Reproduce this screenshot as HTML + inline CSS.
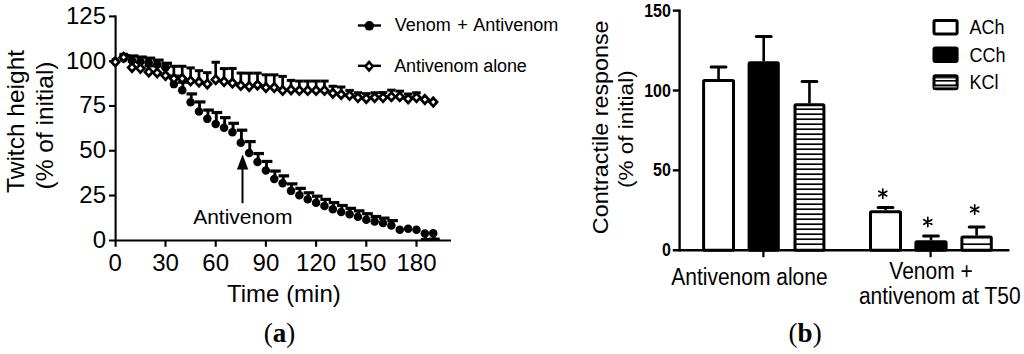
<!DOCTYPE html>
<html><head><meta charset="utf-8"><title>Figure</title>
<style>
html,body{margin:0;padding:0;background:#fff;}
body{width:1024px;height:354px;overflow:hidden;}
svg{display:block;font-family:"Liberation Sans", sans-serif;}
</style></head>
<body>
<svg width="1024" height="354" viewBox="0 0 1024 354" font-family='"Liberation Sans", sans-serif' fill="#000">
<rect width="1024" height="354" fill="#fff"/>
<line x1="115.6" y1="15.4" x2="115.6" y2="246.8" stroke="#000" stroke-width="2.1"/>
<line x1="109" y1="240.5" x2="451" y2="240.5" stroke="#000" stroke-width="2.1"/>
<line x1="109" y1="195.53" x2="115.6" y2="195.53" stroke="#000" stroke-width="2.1"/>
<line x1="109" y1="150.75" x2="115.6" y2="150.75" stroke="#000" stroke-width="2.1"/>
<line x1="109" y1="105.98" x2="115.6" y2="105.98" stroke="#000" stroke-width="2.1"/>
<line x1="109" y1="61.20" x2="115.6" y2="61.20" stroke="#000" stroke-width="2.1"/>
<line x1="109" y1="16.43" x2="115.6" y2="16.43" stroke="#000" stroke-width="2.1"/>
<line x1="165.50" y1="240.5" x2="165.50" y2="246.8" stroke="#000" stroke-width="2.1"/>
<line x1="215.70" y1="240.5" x2="215.70" y2="246.8" stroke="#000" stroke-width="2.1"/>
<line x1="265.90" y1="240.5" x2="265.90" y2="246.8" stroke="#000" stroke-width="2.1"/>
<line x1="316.10" y1="240.5" x2="316.10" y2="246.8" stroke="#000" stroke-width="2.1"/>
<line x1="366.30" y1="240.5" x2="366.30" y2="246.8" stroke="#000" stroke-width="2.1"/>
<line x1="416.49" y1="240.5" x2="416.49" y2="246.8" stroke="#000" stroke-width="2.1"/>
<text x="106" y="247.70" font-size="24" text-anchor="end">0</text>
<text x="106" y="202.93" font-size="24" text-anchor="end">25</text>
<text x="106" y="158.15" font-size="24" text-anchor="end">50</text>
<text x="106" y="113.38" font-size="24" text-anchor="end">75</text>
<text x="106" y="68.60" font-size="24" text-anchor="end">100</text>
<text x="106" y="23.83" font-size="24" text-anchor="end">125</text>
<text x="115.30" y="270.6" font-size="24" text-anchor="middle">0</text>
<text x="165.50" y="270.6" font-size="24" text-anchor="middle">30</text>
<text x="215.70" y="270.6" font-size="24" text-anchor="middle">60</text>
<text x="265.90" y="270.6" font-size="24" text-anchor="middle">90</text>
<text x="316.10" y="270.6" font-size="24" text-anchor="middle">120</text>
<text x="366.30" y="270.6" font-size="24" text-anchor="middle">150</text>
<text x="416.49" y="270.6" font-size="24" text-anchor="middle">180</text>
<text x="283.9" y="301.8" font-size="24" text-anchor="middle">Time (min)</text>
<text transform="translate(24.4,121.4) rotate(-90)" font-size="24.5" text-anchor="middle">Twitch height</text>
<text transform="translate(52.6,125.5) rotate(-90)" font-size="24.5" text-anchor="middle">(% of initial)</text>
<line x1="124.27" y1="58.51" x2="124.27" y2="55.51" stroke="#000" stroke-width="2.9"/>
<line x1="119.57" y1="55.51" x2="130.17" y2="55.51" stroke="#000" stroke-width="3.1999999999999997"/>
<line x1="132.63" y1="60.48" x2="132.63" y2="55.98" stroke="#000" stroke-width="2.9"/>
<line x1="127.93" y1="55.98" x2="138.53" y2="55.98" stroke="#000" stroke-width="3.1999999999999997"/>
<line x1="141.00" y1="61.56" x2="141.00" y2="57.06" stroke="#000" stroke-width="2.9"/>
<line x1="136.30" y1="57.06" x2="146.90" y2="57.06" stroke="#000" stroke-width="3.1999999999999997"/>
<line x1="149.37" y1="62.45" x2="149.37" y2="58.15" stroke="#000" stroke-width="2.9"/>
<line x1="144.67" y1="58.15" x2="155.27" y2="58.15" stroke="#000" stroke-width="3.1999999999999997"/>
<line x1="157.73" y1="64.42" x2="157.73" y2="60.12" stroke="#000" stroke-width="2.9"/>
<line x1="153.03" y1="60.12" x2="163.63" y2="60.12" stroke="#000" stroke-width="3.1999999999999997"/>
<line x1="166.10" y1="67.47" x2="166.10" y2="63.27" stroke="#000" stroke-width="2.9"/>
<line x1="161.40" y1="63.27" x2="172.00" y2="63.27" stroke="#000" stroke-width="3.1999999999999997"/>
<line x1="174.47" y1="84.12" x2="174.47" y2="76.12" stroke="#000" stroke-width="2.9"/>
<line x1="169.77" y1="76.12" x2="180.37" y2="76.12" stroke="#000" stroke-width="3.1999999999999997"/>
<line x1="182.83" y1="90.21" x2="182.83" y2="82.21" stroke="#000" stroke-width="2.9"/>
<line x1="178.13" y1="82.21" x2="188.73" y2="82.21" stroke="#000" stroke-width="3.1999999999999997"/>
<line x1="191.20" y1="102.21" x2="191.20" y2="93.91" stroke="#000" stroke-width="2.9"/>
<line x1="186.50" y1="93.91" x2="197.10" y2="93.91" stroke="#000" stroke-width="3.1999999999999997"/>
<line x1="199.56" y1="111.53" x2="199.56" y2="101.93" stroke="#000" stroke-width="2.9"/>
<line x1="194.86" y1="101.93" x2="205.47" y2="101.93" stroke="#000" stroke-width="3.1999999999999997"/>
<line x1="207.93" y1="118.87" x2="207.93" y2="110.07" stroke="#000" stroke-width="2.9"/>
<line x1="203.23" y1="110.07" x2="213.83" y2="110.07" stroke="#000" stroke-width="3.1999999999999997"/>
<line x1="216.30" y1="123.89" x2="216.30" y2="112.49" stroke="#000" stroke-width="2.9"/>
<line x1="211.60" y1="112.49" x2="222.20" y2="112.49" stroke="#000" stroke-width="3.1999999999999997"/>
<line x1="224.66" y1="127.65" x2="224.66" y2="117.65" stroke="#000" stroke-width="2.9"/>
<line x1="219.96" y1="117.65" x2="230.56" y2="117.65" stroke="#000" stroke-width="3.1999999999999997"/>
<line x1="233.03" y1="132.30" x2="233.03" y2="123.30" stroke="#000" stroke-width="2.9"/>
<line x1="228.33" y1="123.30" x2="238.93" y2="123.30" stroke="#000" stroke-width="3.1999999999999997"/>
<line x1="241.40" y1="142.69" x2="241.40" y2="130.19" stroke="#000" stroke-width="2.9"/>
<line x1="236.70" y1="130.19" x2="247.30" y2="130.19" stroke="#000" stroke-width="3.1999999999999997"/>
<line x1="249.76" y1="153.08" x2="249.76" y2="141.58" stroke="#000" stroke-width="2.9"/>
<line x1="245.06" y1="141.58" x2="255.66" y2="141.58" stroke="#000" stroke-width="3.1999999999999997"/>
<line x1="258.13" y1="162.03" x2="258.13" y2="153.53" stroke="#000" stroke-width="2.9"/>
<line x1="253.43" y1="153.53" x2="264.03" y2="153.53" stroke="#000" stroke-width="3.1999999999999997"/>
<line x1="266.50" y1="170.45" x2="266.50" y2="161.45" stroke="#000" stroke-width="2.9"/>
<line x1="261.80" y1="161.45" x2="272.40" y2="161.45" stroke="#000" stroke-width="3.1999999999999997"/>
<line x1="274.86" y1="179.05" x2="274.86" y2="171.05" stroke="#000" stroke-width="2.9"/>
<line x1="270.16" y1="171.05" x2="280.76" y2="171.05" stroke="#000" stroke-width="3.1999999999999997"/>
<line x1="283.23" y1="183.35" x2="283.23" y2="175.85" stroke="#000" stroke-width="2.9"/>
<line x1="278.53" y1="175.85" x2="289.13" y2="175.85" stroke="#000" stroke-width="3.1999999999999997"/>
<line x1="291.60" y1="190.87" x2="291.60" y2="183.87" stroke="#000" stroke-width="2.9"/>
<line x1="286.90" y1="183.87" x2="297.50" y2="183.87" stroke="#000" stroke-width="3.1999999999999997"/>
<line x1="299.96" y1="195.35" x2="299.96" y2="188.35" stroke="#000" stroke-width="2.9"/>
<line x1="295.26" y1="188.35" x2="305.86" y2="188.35" stroke="#000" stroke-width="3.1999999999999997"/>
<line x1="308.33" y1="199.29" x2="308.33" y2="192.79" stroke="#000" stroke-width="2.9"/>
<line x1="303.63" y1="192.79" x2="314.23" y2="192.79" stroke="#000" stroke-width="3.1999999999999997"/>
<line x1="316.70" y1="202.69" x2="316.70" y2="196.19" stroke="#000" stroke-width="2.9"/>
<line x1="312.00" y1="196.19" x2="322.60" y2="196.19" stroke="#000" stroke-width="3.1999999999999997"/>
<line x1="325.06" y1="205.91" x2="325.06" y2="199.41" stroke="#000" stroke-width="2.9"/>
<line x1="320.36" y1="199.41" x2="330.96" y2="199.41" stroke="#000" stroke-width="3.1999999999999997"/>
<line x1="333.43" y1="209.14" x2="333.43" y2="202.64" stroke="#000" stroke-width="2.9"/>
<line x1="328.73" y1="202.64" x2="339.33" y2="202.64" stroke="#000" stroke-width="3.1999999999999997"/>
<line x1="341.80" y1="212.00" x2="341.80" y2="205.50" stroke="#000" stroke-width="2.9"/>
<line x1="337.10" y1="205.50" x2="347.70" y2="205.50" stroke="#000" stroke-width="3.1999999999999997"/>
<line x1="350.16" y1="214.33" x2="350.16" y2="208.33" stroke="#000" stroke-width="2.9"/>
<line x1="345.46" y1="208.33" x2="356.06" y2="208.33" stroke="#000" stroke-width="3.1999999999999997"/>
<line x1="358.53" y1="216.84" x2="358.53" y2="210.84" stroke="#000" stroke-width="2.9"/>
<line x1="353.83" y1="210.84" x2="364.43" y2="210.84" stroke="#000" stroke-width="3.1999999999999997"/>
<line x1="366.90" y1="219.70" x2="366.90" y2="213.70" stroke="#000" stroke-width="2.9"/>
<line x1="362.19" y1="213.70" x2="372.80" y2="213.70" stroke="#000" stroke-width="3.1999999999999997"/>
<line x1="375.26" y1="221.49" x2="375.26" y2="216.49" stroke="#000" stroke-width="2.9"/>
<line x1="370.56" y1="216.49" x2="381.16" y2="216.49" stroke="#000" stroke-width="3.1999999999999997"/>
<line x1="383.63" y1="223.11" x2="383.63" y2="218.11" stroke="#000" stroke-width="2.9"/>
<line x1="378.93" y1="218.11" x2="389.53" y2="218.11" stroke="#000" stroke-width="3.1999999999999997"/>
<line x1="391.99" y1="225.61" x2="391.99" y2="220.61" stroke="#000" stroke-width="2.9"/>
<line x1="387.29" y1="220.61" x2="397.89" y2="220.61" stroke="#000" stroke-width="3.1999999999999997"/>
<line x1="425.46" y1="233.49" x2="425.46" y2="239.49" stroke="#000" stroke-width="2.9"/>
<line x1="420.76" y1="239.49" x2="431.36" y2="239.49" stroke="#000" stroke-width="3.1999999999999997"/>
<line x1="433.83" y1="233.14" x2="433.83" y2="239.14" stroke="#000" stroke-width="2.9"/>
<line x1="429.13" y1="239.14" x2="439.73" y2="239.14" stroke="#000" stroke-width="3.1999999999999997"/>
<line x1="123.67" y1="57.26" x2="123.67" y2="54.26" stroke="#000" stroke-width="2.7"/>
<line x1="119.47" y1="54.26" x2="127.87" y2="54.26" stroke="#000" stroke-width="3.0"/>
<line x1="132.03" y1="67.47" x2="132.03" y2="61.47" stroke="#000" stroke-width="2.7"/>
<line x1="127.83" y1="61.47" x2="136.23" y2="61.47" stroke="#000" stroke-width="3.0"/>
<line x1="140.40" y1="68.36" x2="140.40" y2="62.36" stroke="#000" stroke-width="2.7"/>
<line x1="136.20" y1="62.36" x2="144.60" y2="62.36" stroke="#000" stroke-width="3.0"/>
<line x1="148.77" y1="71.95" x2="148.77" y2="65.95" stroke="#000" stroke-width="2.7"/>
<line x1="144.57" y1="65.95" x2="152.97" y2="65.95" stroke="#000" stroke-width="3.0"/>
<line x1="157.13" y1="72.84" x2="157.13" y2="65.84" stroke="#000" stroke-width="2.7"/>
<line x1="152.93" y1="65.84" x2="161.33" y2="65.84" stroke="#000" stroke-width="3.0"/>
<line x1="165.50" y1="75.53" x2="165.50" y2="67.53" stroke="#000" stroke-width="2.7"/>
<line x1="161.30" y1="67.53" x2="169.70" y2="67.53" stroke="#000" stroke-width="3.0"/>
<line x1="173.87" y1="78.57" x2="173.87" y2="66.27" stroke="#000" stroke-width="2.7"/>
<line x1="169.67" y1="66.27" x2="178.07" y2="66.27" stroke="#000" stroke-width="3.0"/>
<line x1="182.23" y1="78.57" x2="182.23" y2="66.27" stroke="#000" stroke-width="2.7"/>
<line x1="178.03" y1="66.27" x2="186.43" y2="66.27" stroke="#000" stroke-width="3.0"/>
<line x1="190.60" y1="80.90" x2="190.60" y2="67.90" stroke="#000" stroke-width="2.7"/>
<line x1="186.40" y1="67.90" x2="194.80" y2="67.90" stroke="#000" stroke-width="3.0"/>
<line x1="198.97" y1="81.98" x2="198.97" y2="70.68" stroke="#000" stroke-width="2.7"/>
<line x1="194.77" y1="70.68" x2="203.16" y2="70.68" stroke="#000" stroke-width="3.0"/>
<line x1="207.33" y1="83.95" x2="207.33" y2="72.65" stroke="#000" stroke-width="2.7"/>
<line x1="203.13" y1="72.65" x2="211.53" y2="72.65" stroke="#000" stroke-width="3.0"/>
<line x1="215.70" y1="79.65" x2="215.70" y2="62.25" stroke="#000" stroke-width="2.7"/>
<line x1="211.50" y1="62.25" x2="219.90" y2="62.25" stroke="#000" stroke-width="3.0"/>
<line x1="224.06" y1="81.62" x2="224.06" y2="68.62" stroke="#000" stroke-width="2.7"/>
<line x1="219.86" y1="68.62" x2="228.26" y2="68.62" stroke="#000" stroke-width="3.0"/>
<line x1="232.43" y1="83.05" x2="232.43" y2="68.45" stroke="#000" stroke-width="2.7"/>
<line x1="228.23" y1="68.45" x2="236.63" y2="68.45" stroke="#000" stroke-width="3.0"/>
<line x1="240.80" y1="85.38" x2="240.80" y2="73.08" stroke="#000" stroke-width="2.7"/>
<line x1="236.60" y1="73.08" x2="245.00" y2="73.08" stroke="#000" stroke-width="3.0"/>
<line x1="249.16" y1="86.45" x2="249.16" y2="73.15" stroke="#000" stroke-width="2.7"/>
<line x1="244.96" y1="73.15" x2="253.36" y2="73.15" stroke="#000" stroke-width="3.0"/>
<line x1="257.53" y1="85.02" x2="257.53" y2="73.12" stroke="#000" stroke-width="2.7"/>
<line x1="253.33" y1="73.12" x2="261.73" y2="73.12" stroke="#000" stroke-width="3.0"/>
<line x1="265.90" y1="87.53" x2="265.90" y2="74.83" stroke="#000" stroke-width="2.7"/>
<line x1="261.70" y1="74.83" x2="270.10" y2="74.83" stroke="#000" stroke-width="3.0"/>
<line x1="274.26" y1="87.53" x2="274.26" y2="74.83" stroke="#000" stroke-width="2.7"/>
<line x1="270.06" y1="74.83" x2="278.46" y2="74.83" stroke="#000" stroke-width="3.0"/>
<line x1="282.63" y1="90.39" x2="282.63" y2="76.39" stroke="#000" stroke-width="2.7"/>
<line x1="278.43" y1="76.39" x2="286.83" y2="76.39" stroke="#000" stroke-width="3.0"/>
<line x1="291.00" y1="89.68" x2="291.00" y2="80.38" stroke="#000" stroke-width="2.7"/>
<line x1="286.80" y1="80.38" x2="295.20" y2="80.38" stroke="#000" stroke-width="3.0"/>
<line x1="299.36" y1="90.39" x2="299.36" y2="81.09" stroke="#000" stroke-width="2.7"/>
<line x1="295.16" y1="81.09" x2="303.56" y2="81.09" stroke="#000" stroke-width="3.0"/>
<line x1="307.73" y1="90.39" x2="307.73" y2="81.09" stroke="#000" stroke-width="2.7"/>
<line x1="303.53" y1="81.09" x2="311.93" y2="81.09" stroke="#000" stroke-width="3.0"/>
<line x1="316.10" y1="90.39" x2="316.10" y2="81.09" stroke="#000" stroke-width="2.7"/>
<line x1="311.90" y1="81.09" x2="320.30" y2="81.09" stroke="#000" stroke-width="3.0"/>
<line x1="324.46" y1="90.39" x2="324.46" y2="81.09" stroke="#000" stroke-width="2.7"/>
<line x1="320.26" y1="81.09" x2="328.66" y2="81.09" stroke="#000" stroke-width="3.0"/>
<line x1="332.83" y1="93.26" x2="332.83" y2="86.26" stroke="#000" stroke-width="2.7"/>
<line x1="328.63" y1="86.26" x2="337.03" y2="86.26" stroke="#000" stroke-width="3.0"/>
<line x1="341.20" y1="94.51" x2="341.20" y2="87.01" stroke="#000" stroke-width="2.7"/>
<line x1="337.00" y1="87.01" x2="345.40" y2="87.01" stroke="#000" stroke-width="3.0"/>
<line x1="349.56" y1="95.41" x2="349.56" y2="90.41" stroke="#000" stroke-width="2.7"/>
<line x1="345.36" y1="90.41" x2="353.76" y2="90.41" stroke="#000" stroke-width="3.0"/>
<line x1="357.93" y1="97.56" x2="357.93" y2="92.76" stroke="#000" stroke-width="2.7"/>
<line x1="353.73" y1="92.76" x2="362.13" y2="92.76" stroke="#000" stroke-width="3.0"/>
<line x1="366.30" y1="98.45" x2="366.30" y2="93.65" stroke="#000" stroke-width="2.7"/>
<line x1="362.10" y1="93.65" x2="370.50" y2="93.65" stroke="#000" stroke-width="3.0"/>
<line x1="374.66" y1="97.56" x2="374.66" y2="92.76" stroke="#000" stroke-width="2.7"/>
<line x1="370.46" y1="92.76" x2="378.86" y2="92.76" stroke="#000" stroke-width="3.0"/>
<line x1="383.03" y1="97.56" x2="383.03" y2="92.56" stroke="#000" stroke-width="2.7"/>
<line x1="378.83" y1="92.56" x2="387.23" y2="92.56" stroke="#000" stroke-width="3.0"/>
<line x1="391.39" y1="96.66" x2="391.39" y2="90.16" stroke="#000" stroke-width="2.7"/>
<line x1="387.19" y1="90.16" x2="395.59" y2="90.16" stroke="#000" stroke-width="3.0"/>
<line x1="399.76" y1="96.66" x2="399.76" y2="91.16" stroke="#000" stroke-width="2.7"/>
<line x1="395.56" y1="91.16" x2="403.96" y2="91.16" stroke="#000" stroke-width="3.0"/>
<line x1="408.13" y1="98.81" x2="408.13" y2="94.01" stroke="#000" stroke-width="2.7"/>
<line x1="403.93" y1="94.01" x2="412.33" y2="94.01" stroke="#000" stroke-width="3.0"/>
<line x1="416.49" y1="97.56" x2="416.49" y2="92.76" stroke="#000" stroke-width="2.7"/>
<line x1="412.29" y1="92.76" x2="420.69" y2="92.76" stroke="#000" stroke-width="3.0"/>
<circle cx="115.30" cy="61.20" r="4.25" fill="#000"/>
<circle cx="123.67" cy="58.51" r="4.25" fill="#000"/>
<circle cx="132.03" cy="60.48" r="4.25" fill="#000"/>
<circle cx="140.40" cy="61.56" r="4.25" fill="#000"/>
<circle cx="148.77" cy="62.45" r="4.25" fill="#000"/>
<circle cx="157.13" cy="64.42" r="4.25" fill="#000"/>
<circle cx="165.50" cy="67.47" r="4.25" fill="#000"/>
<circle cx="173.87" cy="84.12" r="4.25" fill="#000"/>
<circle cx="182.23" cy="90.21" r="4.25" fill="#000"/>
<circle cx="190.60" cy="102.21" r="4.25" fill="#000"/>
<circle cx="198.97" cy="111.53" r="4.25" fill="#000"/>
<circle cx="207.33" cy="118.87" r="4.25" fill="#000"/>
<circle cx="215.70" cy="123.89" r="4.25" fill="#000"/>
<circle cx="224.06" cy="127.65" r="4.25" fill="#000"/>
<circle cx="232.43" cy="132.30" r="4.25" fill="#000"/>
<circle cx="240.80" cy="142.69" r="4.25" fill="#000"/>
<circle cx="249.16" cy="153.08" r="4.25" fill="#000"/>
<circle cx="257.53" cy="162.03" r="4.25" fill="#000"/>
<circle cx="265.90" cy="170.45" r="4.25" fill="#000"/>
<circle cx="274.26" cy="179.05" r="4.25" fill="#000"/>
<circle cx="282.63" cy="183.35" r="4.25" fill="#000"/>
<circle cx="291.00" cy="190.87" r="4.25" fill="#000"/>
<circle cx="299.36" cy="195.35" r="4.25" fill="#000"/>
<circle cx="307.73" cy="199.29" r="4.25" fill="#000"/>
<circle cx="316.10" cy="202.69" r="4.25" fill="#000"/>
<circle cx="324.46" cy="205.91" r="4.25" fill="#000"/>
<circle cx="332.83" cy="209.14" r="4.25" fill="#000"/>
<circle cx="341.20" cy="212.00" r="4.25" fill="#000"/>
<circle cx="349.56" cy="214.33" r="4.25" fill="#000"/>
<circle cx="357.93" cy="216.84" r="4.25" fill="#000"/>
<circle cx="366.30" cy="219.70" r="4.25" fill="#000"/>
<circle cx="374.66" cy="221.49" r="4.25" fill="#000"/>
<circle cx="383.03" cy="223.11" r="4.25" fill="#000"/>
<circle cx="391.39" cy="225.61" r="4.25" fill="#000"/>
<circle cx="399.76" cy="229.73" r="4.25" fill="#000"/>
<circle cx="408.13" cy="228.66" r="4.25" fill="#000"/>
<circle cx="416.49" cy="229.73" r="4.25" fill="#000"/>
<circle cx="424.86" cy="233.49" r="4.25" fill="#000"/>
<circle cx="433.23" cy="233.14" r="4.25" fill="#000"/>
<path d="M115.30 55.72L121.00 61.92L115.30 68.12L109.60 61.92Z" fill="#000"/>
<path d="M115.30 59.82L117.40 61.92L115.30 64.02L113.20 61.92Z" fill="#fff"/>
<path d="M123.67 51.06L129.37 57.26L123.67 63.46L117.97 57.26Z" fill="#000"/>
<path d="M123.67 55.16L125.77 57.26L123.67 59.36L121.57 57.26Z" fill="#fff"/>
<path d="M132.03 61.27L137.73 67.47L132.03 73.67L126.33 67.47Z" fill="#000"/>
<path d="M132.03 65.37L134.13 67.47L132.03 69.57L129.93 67.47Z" fill="#fff"/>
<path d="M140.40 62.16L146.10 68.36L140.40 74.56L134.70 68.36Z" fill="#000"/>
<path d="M140.40 66.26L142.50 68.36L140.40 70.46L138.30 68.36Z" fill="#fff"/>
<path d="M148.77 65.75L154.47 71.95L148.77 78.15L143.07 71.95Z" fill="#000"/>
<path d="M148.77 69.85L150.87 71.95L148.77 74.05L146.67 71.95Z" fill="#fff"/>
<path d="M157.13 66.64L162.83 72.84L157.13 79.04L151.43 72.84Z" fill="#000"/>
<path d="M157.13 70.74L159.23 72.84L157.13 74.94L155.03 72.84Z" fill="#fff"/>
<path d="M165.50 69.33L171.20 75.53L165.50 81.73L159.80 75.53Z" fill="#000"/>
<path d="M165.50 73.43L167.60 75.53L165.50 77.63L163.40 75.53Z" fill="#fff"/>
<path d="M173.87 72.37L179.57 78.57L173.87 84.77L168.17 78.57Z" fill="#000"/>
<path d="M173.87 76.47L175.97 78.57L173.87 80.67L171.77 78.57Z" fill="#fff"/>
<path d="M182.23 72.37L187.93 78.57L182.23 84.77L176.53 78.57Z" fill="#000"/>
<path d="M182.23 76.47L184.33 78.57L182.23 80.67L180.13 78.57Z" fill="#fff"/>
<path d="M190.60 74.70L196.30 80.90L190.60 87.10L184.90 80.90Z" fill="#000"/>
<path d="M190.60 78.80L192.70 80.90L190.60 83.00L188.50 80.90Z" fill="#fff"/>
<path d="M198.97 75.78L204.66 81.98L198.97 88.18L193.27 81.98Z" fill="#000"/>
<path d="M198.97 79.88L201.06 81.98L198.97 84.08L196.87 81.98Z" fill="#fff"/>
<path d="M207.33 77.75L213.03 83.95L207.33 90.15L201.63 83.95Z" fill="#000"/>
<path d="M207.33 81.85L209.43 83.95L207.33 86.05L205.23 83.95Z" fill="#fff"/>
<path d="M215.70 73.45L221.40 79.65L215.70 85.85L210.00 79.65Z" fill="#000"/>
<path d="M215.70 77.55L217.80 79.65L215.70 81.75L213.60 79.65Z" fill="#fff"/>
<path d="M224.06 75.42L229.76 81.62L224.06 87.82L218.36 81.62Z" fill="#000"/>
<path d="M224.06 79.52L226.16 81.62L224.06 83.72L221.96 81.62Z" fill="#fff"/>
<path d="M232.43 76.85L238.13 83.05L232.43 89.25L226.73 83.05Z" fill="#000"/>
<path d="M232.43 80.95L234.53 83.05L232.43 85.15L230.33 83.05Z" fill="#fff"/>
<path d="M240.80 79.18L246.50 85.38L240.80 91.58L235.10 85.38Z" fill="#000"/>
<path d="M240.80 83.28L242.90 85.38L240.80 87.48L238.70 85.38Z" fill="#fff"/>
<path d="M249.16 80.25L254.86 86.45L249.16 92.65L243.46 86.45Z" fill="#000"/>
<path d="M249.16 84.35L251.26 86.45L249.16 88.55L247.06 86.45Z" fill="#fff"/>
<path d="M257.53 78.82L263.23 85.02L257.53 91.22L251.83 85.02Z" fill="#000"/>
<path d="M257.53 82.92L259.63 85.02L257.53 87.12L255.43 85.02Z" fill="#fff"/>
<path d="M265.90 81.33L271.60 87.53L265.90 93.73L260.20 87.53Z" fill="#000"/>
<path d="M265.90 85.43L268.00 87.53L265.90 89.63L263.80 87.53Z" fill="#fff"/>
<path d="M274.26 81.33L279.96 87.53L274.26 93.73L268.56 87.53Z" fill="#000"/>
<path d="M274.26 85.43L276.36 87.53L274.26 89.63L272.16 87.53Z" fill="#fff"/>
<path d="M282.63 84.19L288.33 90.39L282.63 96.59L276.93 90.39Z" fill="#000"/>
<path d="M282.63 88.29L284.73 90.39L282.63 92.49L280.53 90.39Z" fill="#fff"/>
<path d="M291.00 83.48L296.70 89.68L291.00 95.88L285.30 89.68Z" fill="#000"/>
<path d="M291.00 87.58L293.10 89.68L291.00 91.78L288.90 89.68Z" fill="#fff"/>
<path d="M299.36 84.19L305.06 90.39L299.36 96.59L293.66 90.39Z" fill="#000"/>
<path d="M299.36 88.29L301.46 90.39L299.36 92.49L297.26 90.39Z" fill="#fff"/>
<path d="M307.73 84.19L313.43 90.39L307.73 96.59L302.03 90.39Z" fill="#000"/>
<path d="M307.73 88.29L309.83 90.39L307.73 92.49L305.63 90.39Z" fill="#fff"/>
<path d="M316.10 84.19L321.80 90.39L316.10 96.59L310.40 90.39Z" fill="#000"/>
<path d="M316.10 88.29L318.20 90.39L316.10 92.49L314.00 90.39Z" fill="#fff"/>
<path d="M324.46 84.19L330.16 90.39L324.46 96.59L318.76 90.39Z" fill="#000"/>
<path d="M324.46 88.29L326.56 90.39L324.46 92.49L322.36 90.39Z" fill="#fff"/>
<path d="M332.83 87.06L338.53 93.26L332.83 99.46L327.13 93.26Z" fill="#000"/>
<path d="M332.83 91.16L334.93 93.26L332.83 95.36L330.73 93.26Z" fill="#fff"/>
<path d="M341.20 88.31L346.90 94.51L341.20 100.71L335.50 94.51Z" fill="#000"/>
<path d="M341.20 92.41L343.30 94.51L341.20 96.61L339.10 94.51Z" fill="#fff"/>
<path d="M349.56 89.21L355.26 95.41L349.56 101.61L343.86 95.41Z" fill="#000"/>
<path d="M349.56 93.31L351.66 95.41L349.56 97.51L347.46 95.41Z" fill="#fff"/>
<path d="M357.93 91.36L363.63 97.56L357.93 103.76L352.23 97.56Z" fill="#000"/>
<path d="M357.93 95.46L360.03 97.56L357.93 99.66L355.83 97.56Z" fill="#fff"/>
<path d="M366.30 92.25L372.00 98.45L366.30 104.65L360.60 98.45Z" fill="#000"/>
<path d="M366.30 96.35L368.40 98.45L366.30 100.55L364.19 98.45Z" fill="#fff"/>
<path d="M374.66 91.36L380.36 97.56L374.66 103.76L368.96 97.56Z" fill="#000"/>
<path d="M374.66 95.46L376.76 97.56L374.66 99.66L372.56 97.56Z" fill="#fff"/>
<path d="M383.03 91.36L388.73 97.56L383.03 103.76L377.33 97.56Z" fill="#000"/>
<path d="M383.03 95.46L385.13 97.56L383.03 99.66L380.93 97.56Z" fill="#fff"/>
<path d="M391.39 90.46L397.09 96.66L391.39 102.86L385.69 96.66Z" fill="#000"/>
<path d="M391.39 94.56L393.49 96.66L391.39 98.76L389.29 96.66Z" fill="#fff"/>
<path d="M399.76 90.46L405.46 96.66L399.76 102.86L394.06 96.66Z" fill="#000"/>
<path d="M399.76 94.56L401.86 96.66L399.76 98.76L397.66 96.66Z" fill="#fff"/>
<path d="M408.13 92.61L413.83 98.81L408.13 105.01L402.43 98.81Z" fill="#000"/>
<path d="M408.13 96.71L410.23 98.81L408.13 100.91L406.03 98.81Z" fill="#fff"/>
<path d="M416.49 91.36L422.19 97.56L416.49 103.76L410.79 97.56Z" fill="#000"/>
<path d="M416.49 95.46L418.59 97.56L416.49 99.66L414.39 97.56Z" fill="#fff"/>
<path d="M424.86 93.33L430.56 99.53L424.86 105.73L419.16 99.53Z" fill="#000"/>
<path d="M424.86 97.43L426.96 99.53L424.86 101.63L422.76 99.53Z" fill="#fff"/>
<path d="M433.23 95.83L438.93 102.03L433.23 108.23L427.53 102.03Z" fill="#000"/>
<path d="M433.23 99.93L435.33 102.03L433.23 104.13L431.13 102.03Z" fill="#fff"/>
<line x1="242.5" y1="166" x2="242.5" y2="203.2" stroke="#000" stroke-width="2"/>
<path d="M242.6 154.6L248.3 169.5L236.9 169.5Z" fill="#000"/>
<text x="193.2" y="224.4" font-size="21">Antivenom</text>
<line x1="357.9" y1="25.5" x2="381" y2="25.5" stroke="#000" stroke-width="2.4"/>
<circle cx="369.3" cy="25.8" r="4.8" fill="#000"/>
<text x="394.8" y="30.8" font-size="18" word-spacing="1.4">Venom + Antivenom</text>
<line x1="357.9" y1="65.8" x2="381" y2="65.8" stroke="#000" stroke-width="2.4"/>
<path d="M369.1 59.9L374.3 66.2L369.1 72.6L363.8 66.2Z" fill="#000"/>
<path d="M369.1 64.1L371.2 66.2L369.1 68.3L367 66.2Z" fill="#fff"/>
<text x="394.2" y="72.2" font-size="18" letter-spacing="-0.1">Antivenom alone</text>
<text x="263.8" y="342.3" font-size="27" font-family='"Liberation Serif", serif'>(<tspan font-weight="bold">a</tspan>)</text>
<line x1="679.6" y1="9.5" x2="679.6" y2="251.39999999999998" stroke="#000" stroke-width="2.4"/>
<line x1="672.8" y1="250.2" x2="1009.5" y2="250.2" stroke="#000" stroke-width="2.4"/>
<line x1="672.8" y1="170.35" x2="679.6" y2="170.35" stroke="#000" stroke-width="2.4"/>
<line x1="672.8" y1="90.50" x2="679.6" y2="90.50" stroke="#000" stroke-width="2.4"/>
<line x1="672.8" y1="10.65" x2="679.6" y2="10.65" stroke="#000" stroke-width="2.4"/>
<text transform="translate(670.8,256.2) scale(1,1.1)" font-size="16" text-anchor="end" font-weight="bold">0</text>
<text transform="translate(670.8,176.35) scale(1,1.1)" font-size="16" text-anchor="end" font-weight="bold">50</text>
<text transform="translate(670.8,96.5) scale(1,1.1)" font-size="16" text-anchor="end" font-weight="bold">100</text>
<text transform="translate(670.8,16.65) scale(1,1.1)" font-size="16" text-anchor="end" font-weight="bold">150</text>
<line x1="763.4" y1="250.2" x2="763.4" y2="257.2" stroke="#000" stroke-width="2.2"/>
<line x1="930.6" y1="250.2" x2="930.6" y2="257.2" stroke="#000" stroke-width="2.2"/>
<text transform="translate(607.8,127.3) scale(1,1.1) rotate(-90)" font-size="21.2" text-anchor="middle">Contractile response</text>
<text transform="translate(633.3,129.2) scale(1,1.1) rotate(-90)" font-size="20.5" text-anchor="middle">(% of initial)</text>
<line x1="718.55" y1="79.10" x2="718.55" y2="67.10" stroke="#000" stroke-width="2.6"/>
<line x1="711.15" y1="67.10" x2="725.95" y2="67.10" stroke="#000" stroke-width="3" stroke-linecap="round"/>
<rect x="703.60" y="80.60" width="29.90" height="169.60" fill="#fff" stroke="#000" stroke-width="3.0" rx="1"/>
<line x1="763.70" y1="61.20" x2="763.70" y2="36.50" stroke="#000" stroke-width="2.6"/>
<line x1="756.30" y1="36.50" x2="771.10" y2="36.50" stroke="#000" stroke-width="3" stroke-linecap="round"/>
<rect x="749.10" y="62.70" width="29.20" height="187.50" fill="#000" stroke="#000" stroke-width="3.0" rx="1"/>
<line x1="809.45" y1="103.30" x2="809.45" y2="81.50" stroke="#000" stroke-width="2.6"/>
<line x1="802.05" y1="81.50" x2="816.85" y2="81.50" stroke="#000" stroke-width="3" stroke-linecap="round"/>
<rect x="795.00" y="104.80" width="28.90" height="145.40" fill="#fff" stroke="#000" stroke-width="3.0" rx="1"/>
<line x1="795.00" y1="244.20" x2="823.90" y2="244.20" stroke="#000" stroke-width="1.7"/>
<line x1="795.00" y1="239.20" x2="823.90" y2="239.20" stroke="#000" stroke-width="1.7"/>
<line x1="795.00" y1="234.20" x2="823.90" y2="234.20" stroke="#000" stroke-width="1.7"/>
<line x1="795.00" y1="229.20" x2="823.90" y2="229.20" stroke="#000" stroke-width="1.7"/>
<line x1="795.00" y1="224.20" x2="823.90" y2="224.20" stroke="#000" stroke-width="1.7"/>
<line x1="795.00" y1="219.20" x2="823.90" y2="219.20" stroke="#000" stroke-width="1.7"/>
<line x1="795.00" y1="214.20" x2="823.90" y2="214.20" stroke="#000" stroke-width="1.7"/>
<line x1="795.00" y1="209.20" x2="823.90" y2="209.20" stroke="#000" stroke-width="1.7"/>
<line x1="795.00" y1="204.20" x2="823.90" y2="204.20" stroke="#000" stroke-width="1.7"/>
<line x1="795.00" y1="199.20" x2="823.90" y2="199.20" stroke="#000" stroke-width="1.7"/>
<line x1="795.00" y1="194.20" x2="823.90" y2="194.20" stroke="#000" stroke-width="1.7"/>
<line x1="795.00" y1="189.20" x2="823.90" y2="189.20" stroke="#000" stroke-width="1.7"/>
<line x1="795.00" y1="184.20" x2="823.90" y2="184.20" stroke="#000" stroke-width="1.7"/>
<line x1="795.00" y1="179.20" x2="823.90" y2="179.20" stroke="#000" stroke-width="1.7"/>
<line x1="795.00" y1="174.20" x2="823.90" y2="174.20" stroke="#000" stroke-width="1.7"/>
<line x1="795.00" y1="169.20" x2="823.90" y2="169.20" stroke="#000" stroke-width="1.7"/>
<line x1="795.00" y1="164.20" x2="823.90" y2="164.20" stroke="#000" stroke-width="1.7"/>
<line x1="795.00" y1="159.20" x2="823.90" y2="159.20" stroke="#000" stroke-width="1.7"/>
<line x1="795.00" y1="154.20" x2="823.90" y2="154.20" stroke="#000" stroke-width="1.7"/>
<line x1="795.00" y1="149.20" x2="823.90" y2="149.20" stroke="#000" stroke-width="1.7"/>
<line x1="795.00" y1="144.20" x2="823.90" y2="144.20" stroke="#000" stroke-width="1.7"/>
<line x1="795.00" y1="139.20" x2="823.90" y2="139.20" stroke="#000" stroke-width="1.7"/>
<line x1="795.00" y1="134.20" x2="823.90" y2="134.20" stroke="#000" stroke-width="1.7"/>
<line x1="795.00" y1="129.20" x2="823.90" y2="129.20" stroke="#000" stroke-width="1.7"/>
<line x1="795.00" y1="124.20" x2="823.90" y2="124.20" stroke="#000" stroke-width="1.7"/>
<line x1="795.00" y1="119.20" x2="823.90" y2="119.20" stroke="#000" stroke-width="1.7"/>
<line x1="795.00" y1="114.20" x2="823.90" y2="114.20" stroke="#000" stroke-width="1.7"/>
<line x1="795.00" y1="109.20" x2="823.90" y2="109.20" stroke="#000" stroke-width="1.7"/>
<line x1="885.50" y1="210.30" x2="885.50" y2="207.60" stroke="#000" stroke-width="2.6"/>
<line x1="878.10" y1="207.60" x2="892.90" y2="207.60" stroke="#000" stroke-width="3" stroke-linecap="round"/>
<rect x="870.50" y="211.80" width="30.00" height="38.40" fill="#fff" stroke="#000" stroke-width="3.0" rx="1"/>
<line x1="931.00" y1="240.30" x2="931.00" y2="235.90" stroke="#000" stroke-width="2.6"/>
<line x1="923.60" y1="235.90" x2="938.40" y2="235.90" stroke="#000" stroke-width="3" stroke-linecap="round"/>
<rect x="915.90" y="241.80" width="30.20" height="8.40" fill="#000" stroke="#000" stroke-width="3.0" rx="1"/>
<line x1="976.60" y1="235.60" x2="976.60" y2="226.90" stroke="#000" stroke-width="2.6"/>
<line x1="969.20" y1="226.90" x2="984.00" y2="226.90" stroke="#000" stroke-width="3" stroke-linecap="round"/>
<rect x="961.90" y="237.10" width="29.40" height="13.10" fill="#fff" stroke="#000" stroke-width="3.0" rx="1"/>
<line x1="961.90" y1="244.20" x2="991.30" y2="244.20" stroke="#000" stroke-width="1.7"/>
<path d="M882.80 198.20L882.80 189.00M878.82 195.90L886.78 191.30M878.82 191.30L886.78 195.90" stroke="#000" stroke-width="1.7" stroke-linecap="round" fill="none"/>
<path d="M927.80 226.60L927.80 217.40M923.82 224.30L931.78 219.70M923.82 219.70L931.78 224.30" stroke="#000" stroke-width="1.7" stroke-linecap="round" fill="none"/>
<path d="M974.70 214.10L974.70 204.90M970.72 211.80L978.68 207.20M970.72 207.20L978.68 211.80" stroke="#000" stroke-width="1.7" stroke-linecap="round" fill="none"/>
<text transform="translate(749.4,284.9) scale(1,1.1)" font-size="21" text-anchor="middle" >Antivenom alone</text>
<text transform="translate(931,278.5) scale(1,1.1)" font-size="21" text-anchor="middle" >Venom +</text>
<text transform="translate(939.8,304.2) scale(1,1.1)" font-size="21" text-anchor="middle" >antivenom at T50</text>
<rect x="934.0" y="20.5" width="23.10" height="13.50" fill="#fff" stroke="#000" stroke-width="3" rx="1.5"/>
<rect x="934.0" y="48.1" width="23.10" height="13.50" fill="#000" stroke="#000" stroke-width="3" rx="1.5"/>
<rect x="934.0" y="75.7" width="23.10" height="13.10" fill="#fff" stroke="#000" stroke-width="3" rx="1.5"/>
<line x1="934.0" y1="77.80" x2="957.1" y2="77.80" stroke="#000" stroke-width="1.2"/>
<line x1="934.0" y1="80.80" x2="957.1" y2="80.80" stroke="#000" stroke-width="1.6"/>
<line x1="934.0" y1="85.20" x2="957.1" y2="85.20" stroke="#000" stroke-width="1.6"/>
<line x1="934.0" y1="86.90" x2="957.1" y2="86.90" stroke="#777" stroke-width="1.4"/>
<text transform="translate(969.6,33.9) scale(1,1.1)" font-size="18" text-anchor="start" >ACh</text>
<text transform="translate(969.6,61.5) scale(1,1.1)" font-size="18" text-anchor="start" >CCh</text>
<text transform="translate(969.6,89.0) scale(1,1.1)" font-size="18" text-anchor="start" >KCl</text>
<text x="788.6" y="341.7" font-size="27" font-family='"Liberation Serif", serif'>(<tspan font-weight="bold">b</tspan>)</text>
</svg>
</body></html>
